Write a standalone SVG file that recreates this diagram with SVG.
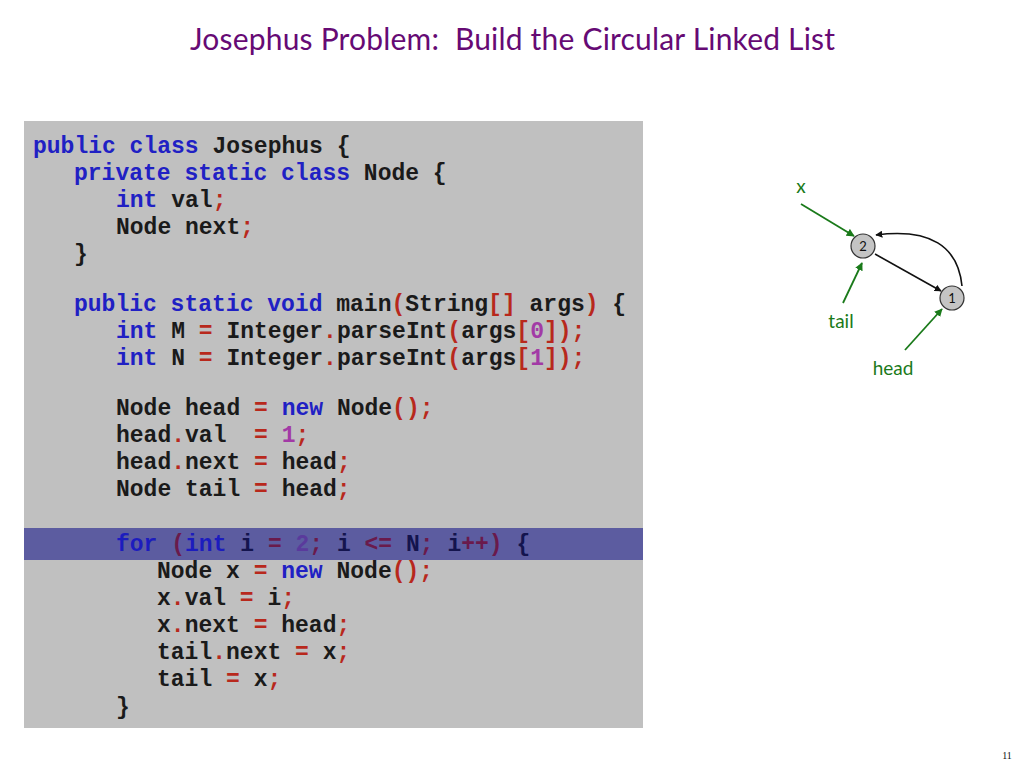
<svg xmlns="http://www.w3.org/2000/svg" width="1024" height="768" viewBox="0 0 1024 768">
<defs>
<style>
.title{font-family:"Comic Sans MS","Lato","Open Sans",sans-serif;font-size:30px;fill:#660a74;white-space:pre}
.code{font-family:"Liberation Mono","Courier New",monospace;font-size:23px;font-weight:bold;fill:#1a1a1a;white-space:pre}
.k{fill:#2020c4}
.p{fill:#b8281c}
.n{fill:#a23aa6}
.hl{fill:#14144e}
.hl .k{fill:#1c1cbe}
.hl .p{fill:#6a1a4c}
.hl .n{fill:#5a3a9c}
.lbl{font-family:"Comic Sans MS","Lato","Open Sans",sans-serif;font-size:19px;fill:#1a7a1a}
.num{font-family:"Comic Sans MS","Lato","Open Sans",sans-serif;font-size:13px;fill:#111}
.node{fill:#c4c4c4;stroke:#333;stroke-width:1.2}
.blk{fill:none;stroke:#111;stroke-width:1.6}
.grn{fill:none;stroke:#1a7a1a;stroke-width:1.8}
</style>
<marker id="ab" viewBox="0 0 10 10" refX="9" refY="5" markerWidth="7" markerHeight="7" markerUnits="userSpaceOnUse" orient="auto"><path d="M0,0 L10,5 L0,10 z" fill="#111"/></marker>
<marker id="ag" viewBox="0 0 10 10" refX="9" refY="5" markerWidth="8" markerHeight="8" markerUnits="userSpaceOnUse" orient="auto"><path d="M0,0 L10,5 L0,10 z" fill="#1a7a1a"/></marker>
</defs>
<rect width="1024" height="768" fill="#fff"/>
<text class="title" x="190" y="50" textLength="645" lengthAdjust="spacing" xml:space="preserve">Josephus Problem:  Build the Circular Linked List</text>

<g id="code">
<rect x="24" y="121" width="619" height="607" fill="#c0c0c0"/>
<rect x="24" y="528" width="619" height="32" fill="#5c5ca0"/>
<g class="code">
<text x="33" y="153" xml:space="preserve"><tspan class="k">public class</tspan> Josephus {</text>
<text x="74" y="180" xml:space="preserve"><tspan class="k">private static class</tspan> Node {</text>
<text x="116" y="207" xml:space="preserve"><tspan class="k">int</tspan> val<tspan class="p">;</tspan></text>
<text x="116" y="234" xml:space="preserve">Node next<tspan class="p">;</tspan></text>
<text x="74" y="261" xml:space="preserve">}</text>
<text x="74" y="311" xml:space="preserve"><tspan class="k">public static void</tspan> main<tspan class="p">(</tspan>String<tspan class="p">[]</tspan> args<tspan class="p">)</tspan> {</text>
<text x="116" y="338" xml:space="preserve"><tspan class="k">int</tspan> M <tspan class="p">=</tspan> Integer<tspan class="p">.</tspan>parseInt<tspan class="p">(</tspan>args<tspan class="p">[</tspan><tspan class="n">0</tspan><tspan class="p">]);</tspan></text>
<text x="116" y="365" xml:space="preserve"><tspan class="k">int</tspan> N <tspan class="p">=</tspan> Integer<tspan class="p">.</tspan>parseInt<tspan class="p">(</tspan>args<tspan class="p">[</tspan><tspan class="n">1</tspan><tspan class="p">]);</tspan></text>
<text x="116" y="415" xml:space="preserve">Node head <tspan class="p">=</tspan> <tspan class="k">new</tspan> Node<tspan class="p">();</tspan></text>
<text x="116" y="442" xml:space="preserve">head<tspan class="p">.</tspan>val  <tspan class="p">=</tspan> <tspan class="n">1</tspan><tspan class="p">;</tspan></text>
<text x="116" y="469" xml:space="preserve">head<tspan class="p">.</tspan>next <tspan class="p">=</tspan> head<tspan class="p">;</tspan></text>
<text x="116" y="496" xml:space="preserve">Node tail <tspan class="p">=</tspan> head<tspan class="p">;</tspan></text>
<text class="hl" x="116" y="551" xml:space="preserve"><tspan class="k">for</tspan> <tspan class="p">(</tspan><tspan class="k">int</tspan> i <tspan class="p">=</tspan> <tspan class="n">2</tspan><tspan class="p">;</tspan> i <tspan class="p">&lt;=</tspan> N<tspan class="p">;</tspan> i<tspan class="p">++)</tspan> {</text>
<text x="157" y="578" xml:space="preserve">Node x <tspan class="p">=</tspan> <tspan class="k">new</tspan> Node<tspan class="p">();</tspan></text>
<text x="157" y="605" xml:space="preserve">x<tspan class="p">.</tspan>val <tspan class="p">=</tspan> i<tspan class="p">;</tspan></text>
<text x="157" y="632" xml:space="preserve">x<tspan class="p">.</tspan>next <tspan class="p">=</tspan> head<tspan class="p">;</tspan></text>
<text x="157" y="659" xml:space="preserve">tail<tspan class="p">.</tspan>next <tspan class="p">=</tspan> x<tspan class="p">;</tspan></text>
<text x="157" y="686" xml:space="preserve">tail <tspan class="p">=</tspan> x<tspan class="p">;</tspan></text>
<text x="116" y="714" xml:space="preserve">}</text>
</g>
</g>

<g id="connectors">
<path class="blk" d="M875,254 L941,291" marker-end="url(#ab)"/>
<path class="blk" d="M962,286 C958,246 930,228 876,235" marker-end="url(#ab)"/>
<path class="grn" d="M801,204 L854,236" marker-end="url(#ag)"/>
<path class="grn" d="M843,303 L862,263" marker-end="url(#ag)"/>
<path class="grn" d="M905,350 L942,309" marker-end="url(#ag)"/>
</g>

<g id="node2">
<circle class="node" cx="863" cy="246" r="12"/>
<text class="num" x="863" y="251" text-anchor="middle">2</text>
</g>
<g id="node1">
<circle class="node" cx="952" cy="298" r="12"/>
<text class="num" x="952" y="303" text-anchor="middle">1</text>
</g>
<g id="label-x"><text class="lbl" x="801" y="193" text-anchor="middle">x</text></g>
<g id="label-tail"><text class="lbl" x="841" y="328" text-anchor="middle">tail</text></g>
<g id="label-head"><text class="lbl" x="893" y="375" text-anchor="middle">head</text></g>

<text x="1007" y="759" text-anchor="middle" font-family="Liberation Serif, serif" font-size="10" fill="#111">11</text>
</svg>
